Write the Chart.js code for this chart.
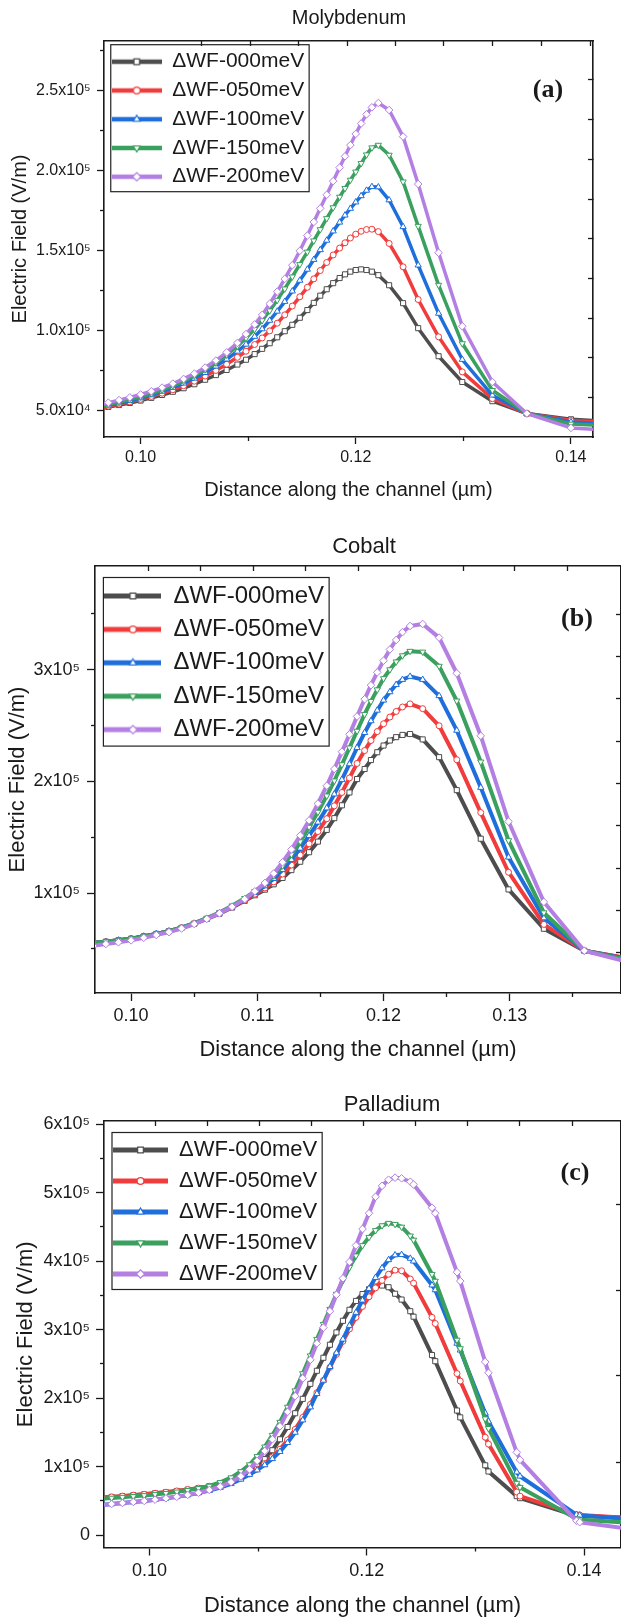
<!DOCTYPE html>
<html lang="en">
<head>
<meta charset="utf-8">
<title>Electric field along the channel</title>
<script src="https://cdn.jsdelivr.net/npm/chart.js@4.4.1/dist/chart.umd.min.js"></script>
<style>
  html, body { margin: 0; padding: 0; background: #ffffff; }
  body { position: relative; width: 621px; height: 1620px; overflow: hidden; }
  canvas { position: absolute; left: 0; }
</style>
</head>
<body>
<canvas id="chartA" width="626" height="510" style="top:0px"></canvas>
<canvas id="chartB" width="626" height="570" style="top:500px"></canvas>
<canvas id="chartC" width="626" height="560" style="top:1060px"></canvas>
<script>
// distance along the channel (um), mesh points
const distanceAB = [0.0960, 0.0970, 0.0980, 0.0990, 0.1000, 0.1010, 0.1020, 0.1030, 0.1040, 0.1050,
  0.1060, 0.1070, 0.1080, 0.1090, 0.1098, 0.1106, 0.1113, 0.1120, 0.1127, 0.1134,
  0.1141, 0.1148, 0.1155, 0.1161, 0.1167, 0.1173, 0.1179, 0.1185, 0.1190, 0.1195,
  0.1200, 0.1205, 0.1210, 0.1215, 0.1221, 0.1231, 0.1244, 0.1258, 0.1277, 0.1299,
  0.1327, 0.1359, 0.1400, 0.1435];
const distanceC = [0.0955, 0.0965, 0.0975, 0.0985, 0.0995, 0.1005, 0.1015, 0.1025, 0.1035, 0.1045,
  0.1055, 0.1065, 0.1075, 0.1084, 0.1092, 0.1099, 0.1106, 0.1113, 0.1120, 0.1127,
  0.1134, 0.1141, 0.1148, 0.1154, 0.1160, 0.1166, 0.1172, 0.1178, 0.1184, 0.1190,
  0.1196, 0.1202, 0.1208, 0.1214, 0.1220, 0.1226, 0.1232, 0.1240, 0.1243, 0.1260,
  0.1263, 0.1283, 0.1286, 0.1309, 0.1312, 0.1338, 0.1341, 0.1393, 0.1396, 0.1440];

const seriesLabels = ['\u0394WF-000meV', '\u0394WF-050meV', '\u0394WF-100meV', '\u0394WF-150meV', '\u0394WF-200meV'];

// electric field in kV/m -- Molybdenum
const moE000 = [51.4, 52.5, 53.7, 55.0, 56.5, 58.2, 60.0, 62.0, 64.2, 66.7, 69.5, 72.4, 75.6, 79.0, 82.0, 85.5, 88.8, 92.3, 96.0, 99.8, 103.8, 108.2, 113.0, 117.5, 122.0, 126.0, 129.8, 133.0, 135.3, 137.0, 138.0, 138.4, 138.0, 137.0, 134.8, 128.5, 117.3, 101.7, 84.2, 68.1, 56.1, 48.4, 44.8, 43.6];
const moE050 = [51.8, 53.0, 54.3, 55.7, 57.3, 59.1, 61.1, 63.3, 65.8, 68.6, 71.8, 75.3, 79.2, 83.5, 87.3, 91.5, 95.6, 100.0, 104.8, 110.0, 115.5, 121.3, 127.2, 132.5, 137.7, 142.7, 147.4, 151.7, 155.0, 158.0, 160.4, 162.2, 163.3, 163.5, 162.0, 154.6, 140.0, 119.6, 96.3, 74.4, 57.7, 48.4, 44.0, 42.9];
const moE100 = [52.2, 53.5, 54.9, 56.4, 58.1, 60.0, 62.2, 64.6, 67.3, 70.4, 73.9, 77.9, 82.3, 87.2, 91.6, 96.5, 101.2, 106.5, 112.2, 118.3, 124.8, 131.5, 138.4, 144.5, 150.6, 156.5, 162.3, 167.8, 172.2, 176.4, 180.4, 184.3, 187.7, 190.0, 189.8, 181.7, 165.0, 141.0, 110.9, 82.1, 59.8, 48.4, 43.1, 41.9];
const moE150 = [52.6, 54.0, 55.5, 57.1, 58.9, 60.9, 63.2, 65.8, 68.7, 72.0, 75.8, 80.1, 85.0, 90.5, 95.5, 101.0, 106.5, 112.6, 119.2, 126.3, 133.8, 141.5, 149.3, 156.3, 163.3, 170.2, 177.0, 183.6, 189.0, 194.2, 199.3, 204.6, 210.0, 214.4, 216.0, 209.8, 193.1, 165.4, 128.6, 92.1, 62.9, 48.4, 41.9, 40.8];
const moE200 = [53.7, 55.2, 56.8, 58.5, 60.3, 62.3, 64.6, 67.1, 70.0, 73.3, 77.1, 81.5, 86.6, 92.5, 98.0, 104.0, 110.0, 117.0, 124.5, 132.5, 141.0, 150.0, 159.5, 168.0, 176.5, 185.0, 193.5, 202.0, 209.0, 216.0, 223.0, 229.5, 235.2, 239.6, 242.3, 237.9, 221.3, 191.7, 148.8, 102.9, 68.1, 48.4, 39.4, 38.0];

// Cobalt
const coE000 = [54.0, 55.2, 56.4, 57.7, 59.1, 61.2, 63.4, 65.8, 68.8, 72.5, 76.8, 81.5, 87.0, 93.0, 98.0, 103.0, 107.8, 113.5, 120.5, 128.0, 136.5, 146.0, 156.5, 167.0, 178.5, 190.0, 202.0, 211.0, 219.0, 226.0, 232.0, 236.5, 239.5, 241.5, 242.3, 237.5, 221.6, 192.1, 148.6, 103.2, 68.0, 48.3, 40.0, 36.5];
const coE050 = [54.0, 55.2, 56.4, 57.7, 59.1, 61.2, 63.4, 65.8, 68.9, 72.6, 77.0, 81.8, 87.4, 93.5, 99.0, 104.5, 110.0, 117.0, 125.0, 134.0, 144.0, 155.0, 166.5, 178.0, 190.0, 203.0, 216.0, 227.5, 236.5, 244.5, 251.5, 257.5, 262.5, 266.5, 269.3, 265.0, 249.7, 219.3, 172.0, 118.6, 71.9, 48.3, 40.5, 37.0];
const coE100 = [54.0, 55.2, 56.4, 57.7, 59.1, 61.2, 63.4, 65.9, 69.0, 72.8, 77.2, 82.2, 88.0, 94.3, 100.3, 106.3, 112.8, 120.8, 129.8, 140.0, 151.3, 163.3, 176.0, 188.5, 201.5, 215.5, 230.0, 243.5, 254.0, 263.5, 272.5, 280.0, 286.5, 291.0, 293.8, 291.0, 276.5, 245.5, 194.4, 132.0, 77.6, 48.3, 39.5, 36.0];
const coE150 = [54.0, 55.2, 56.4, 57.7, 59.1, 61.2, 63.4, 65.9, 69.1, 73.0, 77.5, 82.6, 88.6, 95.3, 101.5, 108.0, 115.5, 124.5, 134.5, 146.0, 159.0, 172.5, 187.0, 200.5, 215.0, 230.0, 245.0, 260.0, 271.5, 282.0, 292.0, 300.0, 307.0, 312.5, 316.5, 315.8, 303.1, 272.0, 217.4, 147.0, 82.4, 48.3, 38.5, 35.0];
const coE200 = [51.5, 52.7, 54.3, 55.9, 57.6, 59.9, 62.4, 65.0, 68.2, 72.2, 76.8, 81.8, 87.6, 94.5, 101.5, 109.0, 117.5, 127.5, 139.0, 151.5, 165.0, 180.0, 196.0, 211.0, 226.5, 242.0, 258.0, 273.5, 286.0, 297.5, 308.0, 318.0, 326.5, 333.5, 339.0, 340.8, 328.6, 296.7, 240.7, 164.0, 92.0, 48.3, 36.5, 32.5];

// Palladium
const pdE000 = [54.5, 55.8, 57.0, 58.3, 59.6, 61.1, 62.7, 64.5, 66.5, 68.8, 71.5, 75.0, 79.5, 85.0, 92.0, 100.5, 111.0, 124.0, 140.0, 158.0, 178.0, 199.0, 221.0, 240.0, 259.0, 278.0, 296.0, 313.0, 329.0, 342.0, 352.0, 359.0, 363.0, 364.5, 362.0, 352.5, 344.0, 327.0, 319.0, 263.0, 254.0, 182.0, 172.0, 102.0, 93.0, 57.0, 54.0, 28.3, 28.0, 25.5];
const pdE050 = [54.5, 55.8, 57.0, 58.3, 59.6, 61.1, 62.7, 64.5, 66.5, 68.7, 71.3, 74.5, 78.5, 83.5, 89.5, 96.5, 104.5, 114.0, 125.5, 139.0, 154.5, 172.0, 191.0, 208.0, 226.0, 245.0, 264.0, 283.0, 301.0, 318.0, 334.0, 348.0, 361.0, 372.0, 381.0, 387.0, 386.0, 374.0, 368.0, 318.0, 309.0, 236.0, 225.0, 143.0, 133.0, 63.0, 57.0, 30.0, 29.5, 25.0];
const pdE100 = [44.0, 45.5, 47.0, 48.5, 50.0, 51.8, 53.8, 56.0, 58.5, 61.5, 65.0, 69.5, 75.0, 81.5, 88.5, 95.0, 102.5, 111.5, 122.0, 135.0, 150.0, 168.0, 187.0, 206.5, 226.0, 246.0, 266.0, 286.0, 306.0, 325.0, 343.0, 360.0, 376.0, 390.0, 402.0, 409.0, 409.5, 404.0, 400.0, 365.0, 358.0, 280.0, 270.0, 178.0, 166.0, 92.0, 86.0, 30.0, 29.0, 23.5];
const pdE150 = [53.0, 54.3, 55.5, 56.7, 58.0, 59.5, 61.2, 63.2, 65.5, 68.3, 71.8, 77.0, 84.0, 93.0, 103.0, 115.0, 129.0, 146.0, 165.0, 187.0, 211.0, 236.0, 262.0, 286.0, 308.0, 330.0, 352.0, 372.0, 391.0, 408.0, 423.0, 435.0, 445.0, 452.0, 455.5, 454.0, 450.0, 437.0, 431.0, 381.0, 371.0, 285.0, 272.5, 170.0, 156.0, 76.0, 70.0, 24.0, 22.5, 18.5];
const pdE200 = [44.0, 45.5, 47.0, 48.5, 50.0, 51.8, 53.8, 56.0, 58.8, 62.0, 66.0, 71.0, 77.5, 86.0, 96.0, 108.5, 123.0, 140.0, 159.0, 180.0, 203.0, 229.0, 256.0, 280.0, 303.0, 327.0, 351.0, 375.0, 399.0, 423.0, 447.0, 470.0, 494.0, 510.0, 519.0, 522.0, 521.0, 516.0, 512.0, 478.0, 470.0, 384.0, 371.0, 253.0, 237.0, 121.0, 110.0, 21.0, 19.0, 9.5];

// ticks
const moXTicks = [0.10, 0.12, 0.14];
const moXLabels = ['0.10', '0.12', '0.14'];
const moXMinor = [0.11, 0.13];
const moYTicks = [50000, 100000, 150000, 200000, 250000];
const moYLabels = ['5.0x10\u2074', '1.0x10\u2075', '1.5x10\u2075', '2.0x10\u2075', '2.5x10\u2075'];
const moYMinor = [75000, 125000, 175000, 225000, 275000];
const moTopTicks = [0.1057, 0.1102, 0.1147, 0.1192, 0.1237, 0.1282, 0.1327, 0.1373, 0.1418];
const moRightTicks = [256700, 231900, 207100, 182300, 157500, 132700, 107900, 83100, 58300];

const coXTicks = [0.10, 0.11, 0.12, 0.13];
const coXLabels = ['0.10', '0.11', '0.12', '0.13'];
const coXMinor = [0.105, 0.115, 0.125, 0.135];
const coYTicks = [100000, 200000, 300000];
const coYLabels = ['1x10\u2075', '2x10\u2075', '3x10\u2075'];
const coYMinor = [50000, 150000, 250000, 350000];
const coTopTicks = [0.1014, 0.1055, 0.1097, 0.1138, 0.1180, 0.1221, 0.1263, 0.1304, 0.1346];
const coRightTicks = [349700, 311800, 273900, 236000, 198100, 160200, 122300, 84400, 46500];

const pdXTicks = [0.10, 0.12, 0.14];
const pdXLabels = ['0.10', '0.12', '0.14'];
const pdXMinor = [0.11, 0.13];
const pdYTicks = [0, 100000, 200000, 300000, 400000, 500000, 600000];
const pdYLabels = ['0', '1x10\u2075', '2x10\u2075', '3x10\u2075', '4x10\u2075', '5x10\u2075', '6x10\u2075'];
const pdYMinor = [50000, 150000, 250000, 350000, 450000, 550000];
const pdTopTicks = [0.1005, 0.1053, 0.1101, 0.1149, 0.1197, 0.1245, 0.1293, 0.1341, 0.1389];
const pdRightTicks = [483300, 357700, 232400, 106700];

// look
const lineColors = ['#4d4d4d', '#f03c3c', '#1e6fdc', '#3aa05e', '#b37fe2'];
const markerShapes = ['rect', 'circle', 'triangle', 'triangle', 'rectRot'];
const markerTurns = [0, 0, 0, 180, 0];
const markerSizes = [3.6, 3, 3.6, 3.6, 3.8];
const ink = '#1a1a1a';
const sansFont = "'Liberation Sans', Arial, Helvetica, sans-serif";

Chart.defaults.font.family = sansFont;
Chart.defaults.color = ink;

function fixedTicks(values) {
  return function (scale) {
    scale.ticks = values.map(v => ({ value: v }));
  };
}

// little line + marker picture used as legend symbol
function legendSwatch(i, width, lineWidth) {
  const c = document.createElement('canvas');
  c.width = width;
  c.height = 14;
  const ctx = c.getContext('2d');
  ctx.strokeStyle = lineColors[i];
  ctx.lineWidth = lineWidth;
  ctx.beginPath();
  ctx.moveTo(0, 7);
  ctx.lineTo(width, 7);
  ctx.stroke();
  ctx.fillStyle = '#fff';
  ctx.lineWidth = 1.2;
  Chart.helpers.drawPoint(ctx, {
    pointStyle: markerShapes[i],
    rotation: markerTurns[i],
    radius: markerSizes[i] + 0.4,
    borderWidth: 1.2
  }, width / 2, 7);
  return c;
}

const legendFrame = {
  id: 'legendFrame',
  afterDraw(chart) {
    const boxes = chart.legend && chart.legend.legendHitBoxes;
    if (!boxes || !boxes.length) return;
    const first = boxes[0];
    const last = boxes[boxes.length - 1];
    const right = Math.max(...boxes.map(b => b.left + b.width)) + 5;
    const left = first.left - 1;
    const top = first.top - 6.5;
    const bottom = last.top + last.height + 4.5;
    const ctx = chart.ctx;
    ctx.save();
    ctx.strokeStyle = '#222';
    ctx.lineWidth = 1.2;
    ctx.strokeRect(left, top, right - left, bottom - top);
    ctx.restore();
  }
};

// panel title (not centred on the plot in the original) and the (a)/(b)/(c) tag
const panelText = {
  id: 'panelText',
  afterDraw(chart, args, opts) {
    const ctx = chart.ctx;
    ctx.save();
    ctx.fillStyle = ink;
    ctx.textAlign = 'center';
    ctx.textBaseline = 'middle';
    ctx.font = opts.titleSize + 'px ' + sansFont;
    ctx.fillText(opts.title, opts.titleX, opts.titleY);
    ctx.font = 'bold ' + opts.tagSize + 'px "Liberation Serif", "Times New Roman", serif';
    ctx.fillText(opts.tag, opts.tagX, opts.tagY);
    ctx.restore();
  }
};

function buildPanel(p) {
  const swatches = seriesLabels.map((_, i) => legendSwatch(i, p.legendLine, p.lineWidth + 0.8));
  const datasets = p.series.map((values, i) => ({
    label: seriesLabels[i],
    data: p.x.map((x, k) => ({ x: x, y: values[k] * 1000 })),
    xAxisID: 'x',
    yAxisID: 'y',
    borderColor: lineColors[i],
    backgroundColor: lineColors[i],
    borderWidth: p.lineWidth,
    borderJoinStyle: 'round',
    pointStyle: markerShapes[i],
    pointRotation: markerTurns[i],
    pointRadius: markerSizes[i],
    pointBackgroundColor: '#fff',
    pointBorderColor: lineColors[i],
    pointBorderWidth: 1,
    tension: 0,
    fill: false,
    order: p.series.length - i
  }));

  const tickGrid = (len) => ({ drawOnChartArea: false, tickLength: len, tickWidth: 1.3, tickColor: ink });
  const frame = { display: true, color: ink, width: 1.6 };

  const scales = {
    x: {
      type: 'linear', position: 'bottom', weight: 1, min: p.xMin, max: p.xMax,
      afterBuildTicks: fixedTicks(p.xTicks),
      afterFit: (s) => { s.height = p.height - p.area.bottom; },
      ticks: { autoSkip: false, maxRotation: 0, padding: p.xTickPad, color: ink,
        font: { size: p.tickFont }, callback: (v, i) => p.xLabels[i] },
      grid: tickGrid(p.tickLen),
      border: frame,
      title: { display: true, text: 'Distance along the channel (\u00b5m)', color: ink,
        font: { size: p.axisFont }, padding: { top: 0, bottom: p.xTitlePad } }
    },
    xMinor: {
      type: 'linear', position: 'bottom', weight: 0, min: p.xMin, max: p.xMax,
      afterBuildTicks: fixedTicks(p.xMinor),
      afterFit: (s) => { s.height = 0; },
      ticks: { display: false },
      grid: tickGrid(4),
      border: { display: false }
    },
    xTop: {
      type: 'linear', position: 'top', weight: 0, min: p.xMin, max: p.xMax,
      afterBuildTicks: fixedTicks(p.topTicks),
      afterFit: (s) => { s.height = 0; },
      ticks: { display: false },
      grid: tickGrid(-5),
      border: frame
    },
    y: {
      type: 'linear', position: 'left', weight: 1, min: p.yMin, max: p.yMax,
      afterBuildTicks: fixedTicks(p.yTicks),
      afterFit: (s) => { s.width = p.area.left; },
      ticks: { autoSkip: false, padding: p.yTickPad, color: ink,
        font: { size: p.tickFont }, callback: (v, i) => p.yLabels[i] },
      grid: tickGrid(p.tickLen),
      border: frame,
      title: { display: true, text: 'Electric Field (V/m)', color: ink,
        font: { size: p.axisFont }, padding: { top: p.yTitlePad, bottom: 0 } }
    },
    yMinor: {
      type: 'linear', position: 'left', weight: 0, min: p.yMin, max: p.yMax,
      afterBuildTicks: fixedTicks(p.yMinor),
      afterFit: (s) => { s.width = 0; },
      ticks: { display: false },
      grid: tickGrid(4),
      border: { display: false }
    },
    yRight: {
      type: 'linear', position: 'right', weight: 0, min: p.yMin, max: p.yMax,
      afterBuildTicks: fixedTicks(p.rightTicks),
      afterFit: (s) => { s.width = 0; },
      ticks: { display: false },
      grid: tickGrid(-5),
      border: frame
    }
  };

  return new Chart(document.getElementById(p.canvas), {
    type: 'line',
    data: { datasets: datasets },
    options: {
      responsive: false,
      animation: false,
      events: [],
      devicePixelRatio: 1,
      layout: { padding: { left: 0, top: p.area.top, bottom: 0, right: p.width - p.area.right } },
      scales: scales,
      plugins: {
        title: { display: false },
        legend: {
          position: 'chartArea',
          align: 'start',
          // a chartArea legend starts at the canvas top, so push the rows down
          title: { display: true, text: '', font: { size: 1, lineHeight: 1 },
            padding: { top: 0, bottom: p.area.top + p.legendShift - 1 } },
          labels: {
            usePointStyle: true,
            pointStyleWidth: p.legendLine,
            padding: p.legendPad,
            color: ink,
            font: { size: p.legendFont },
            generateLabels: () => datasets.map((ds, i) => ({
              text: ds.label,
              pointStyle: swatches[i],
              datasetIndex: i,
              fontColor: ink,
              lineWidth: 0,
              hidden: false
            }))
          }
        },
        tooltip: { enabled: false },
        panelText: p.text
      }
    },
    plugins: [legendFrame, panelText]
  });
}

buildPanel({
  canvas: 'chartA', width: 626, height: 510,
  area: { left: 104, right: 593, top: 41, bottom: 437 },
  x: distanceAB, series: [moE000, moE050, moE100, moE150, moE200],
  xMin: 0.0966, xMax: 0.14205, yMin: 33750, yMax: 281000,
  xTicks: moXTicks, xLabels: moXLabels, xMinor: moXMinor, topTicks: moTopTicks,
  yTicks: moYTicks, yLabels: moYLabels, yMinor: moYMinor, rightTicks: moRightTicks,
  axisFont: 20, tickFont: 16, tickLen: 7, xTickPad: 3.7, yTickPad: 6.3,
  xTitlePad: 8, yTitlePad: 8, lineWidth: 3.5,
  legendFont: 21, legendPad: 7.75, legendLine: 50, legendShift: 2.45,
  text: { title: 'Molybdenum', titleSize: 20, titleX: 349, titleY: 18,
    tag: '(a)', tagSize: 26, tagX: 548, tagY: 90 }
});

buildPanel({
  canvas: 'chartB', width: 626, height: 570,
  area: { left: 95, right: 622.5, top: 66, bottom: 493 },
  x: distanceAB, series: [coE000, coE050, coE100, coE150, coE200],
  xMin: 0.09714, xMax: 0.13881, yMin: 10500, yMax: 392700,
  xTicks: coXTicks, xLabels: coXLabels, xMinor: coXMinor, topTicks: coTopTicks,
  yTicks: coYTicks, yLabels: coYLabels, yMinor: coYMinor, rightTicks: coRightTicks,
  axisFont: 22, tickFont: 18, tickLen: 8, xTickPad: 4.2, yTickPad: 7,
  xTitlePad: 6.8, yTitlePad: 4.6, lineWidth: 4,
  legendFont: 24, legendPad: 9.4, legendLine: 57, legendShift: 8.6,
  text: { title: 'Cobalt', titleSize: 22, titleX: 364, titleY: 47,
    tag: '(b)', tagSize: 26, tagX: 577, tagY: 119 }
});

buildPanel({
  canvas: 'chartC', width: 626, height: 560,
  area: { left: 104, right: 623, top: 61, bottom: 487.5 },
  x: distanceC, series: [pdE000, pdE050, pdE100, pdE150, pdE200],
  xMin: 0.0958, xMax: 0.1434, yMin: -18000, yMax: 604700,
  xTicks: pdXTicks, xLabels: pdXLabels, xMinor: pdXMinor, topTicks: pdTopTicks,
  yTicks: pdYTicks, yLabels: pdYLabels, yMinor: pdYMinor, rightTicks: pdRightTicks,
  axisFont: 22, tickFont: 18, tickLen: 8, xTickPad: 4.4, yTickPad: 6,
  xTitlePad: 0.8, yTitlePad: 12.8, lineWidth: 4,
  legendFont: 22, legendPad: 9, legendLine: 55, legendShift: 9,
  text: { title: 'Palladium', titleSize: 22, titleX: 392, titleY: 44.6,
    tag: '(c)', tagSize: 26, tagX: 575, tagY: 113.6 }
});
</script>
</body>
</html>
